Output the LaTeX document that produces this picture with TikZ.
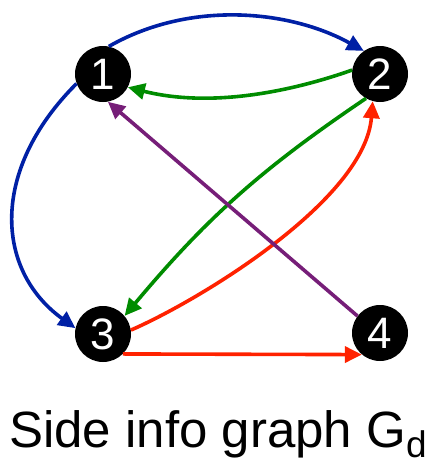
\documentclass[tikz,border=0pt]{standalone}
\usepackage{fontspec}
\setmainfont{Liberation Sans}
\usetikzlibrary{arrows.meta}
\definecolor{eblue}{RGB}{0,32,165}
\definecolor{egreen}{RGB}{0,140,0}
\definecolor{ered}{RGB}{255,34,0}
\definecolor{epurple}{RGB}{118,30,120}
\tikzset{
  vtx/.style={circle,fill=black,minimum size=56pt,inner sep=0pt,text=white,font=\fontsize{44}{44}\selectfont},
  edge/.style={line width=3.6pt,-{Triangle[length=17pt,width=16pt]}},
}
\begin{document}
\begin{tikzpicture}[x=1pt,y=-1pt]
\useasboundingbox (0,0) rectangle (442,464);
\node[vtx] (n1) at (103,74) {1};
\node[vtx] (n2) at (380,74) {2};
\node[vtx] (n3) at (103,334) {3};
\node[vtx] (n4) at (380,333) {4};
\draw[edge,eblue] (n1.78) .. controls (190,0) and (290,10) .. (n2.125);
\draw[edge,egreen] (n2.172) .. controls (290,92) and (210,108) .. (n1.-28);
\draw[edge,eblue] (n1.200) .. controls (-10,170) and (-5,270) .. (n3.168);
\draw[edge,egreen] (n2.-120) to[bend right=8] (n3.40);
\draw[edge,ered] (n3.8) .. controls (200,300) and (365,200) .. (n2.-105);
\draw[edge,ered] (n3.-45) -- (n4.-130);
\draw[edge,epurple] (n4.143) -- (n1.-80);
\node[anchor=base west,inner sep=0pt,font=\fontsize{51}{51}\selectfont] (cap) at (9,447) {Side info graph G\raisebox{-10pt}{\fontsize{37}{37}\selectfont d}};
\end{tikzpicture}
\end{document}
